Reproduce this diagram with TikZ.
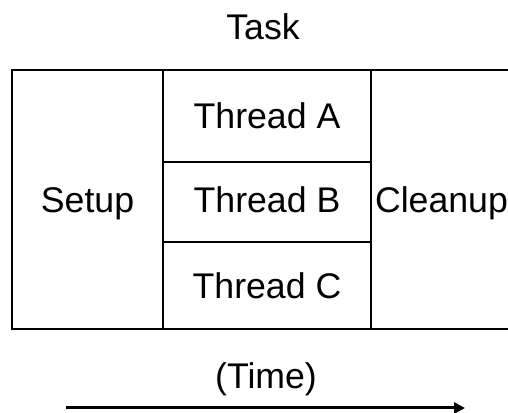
\documentclass[tikz,border=0pt]{standalone}
\usepackage{fontspec}
\setmainfont{Liberation Sans}
\usetikzlibrary{arrows.meta}

\tikzset{
  cell/.style={draw, line width=0.04cm, inner sep=0pt,
    text height=0.72em, text depth=0pt},
  caption/.style={inner sep=0pt, text height=0.72em, text depth=0pt}
}

\begin{document}
\begin{tikzpicture}
                        \useasboundingbox (0,0) rectangle (10.16,8.26);
                        \clip (0,0) rectangle (10.16,8.26);
                        {\fontsize{20.3}{24}\selectfont

                        % Title of the box
                        \node [caption] (task) at (5.26,7.72) {Task};%

                        % Setup column
                        \node [cell, minimum width=3.02cm, minimum height=5.18cm] (setup) at (1.75,4.27) {Setup};%

                        % Thread rows
                        \node [cell, minimum width=4.16cm, minimum height=1.84cm] (threadA) at (5.34,5.94) {Thread A};%
                        \node [cell, minimum width=4.16cm, minimum height=1.60cm, text depth=0.1cm] (threadB) at (5.34,4.22) {Thread B};%
                        \node [cell, minimum width=4.16cm, minimum height=1.74cm] (threadC) at (5.34,2.55) {Thread C};%

                        % Cleanup column
                        \node [cell, minimum width=2.82cm, minimum height=5.18cm] (cleanup) at (8.83,4.27) {Cleanup};%

                        % Time axis
                        \node [caption] (time) at (5.32,0.75) {(Time)};%
                        \coordinate (t0) at (1.32,0.10);%
                        \coordinate (t1) at (9.30,0.10);%
                        \draw [line width=0.06cm, -{Triangle[length=0.22cm,width=0.22cm]}] (t0) -- (t1);%
                        }
\end{tikzpicture}
\end{document}
